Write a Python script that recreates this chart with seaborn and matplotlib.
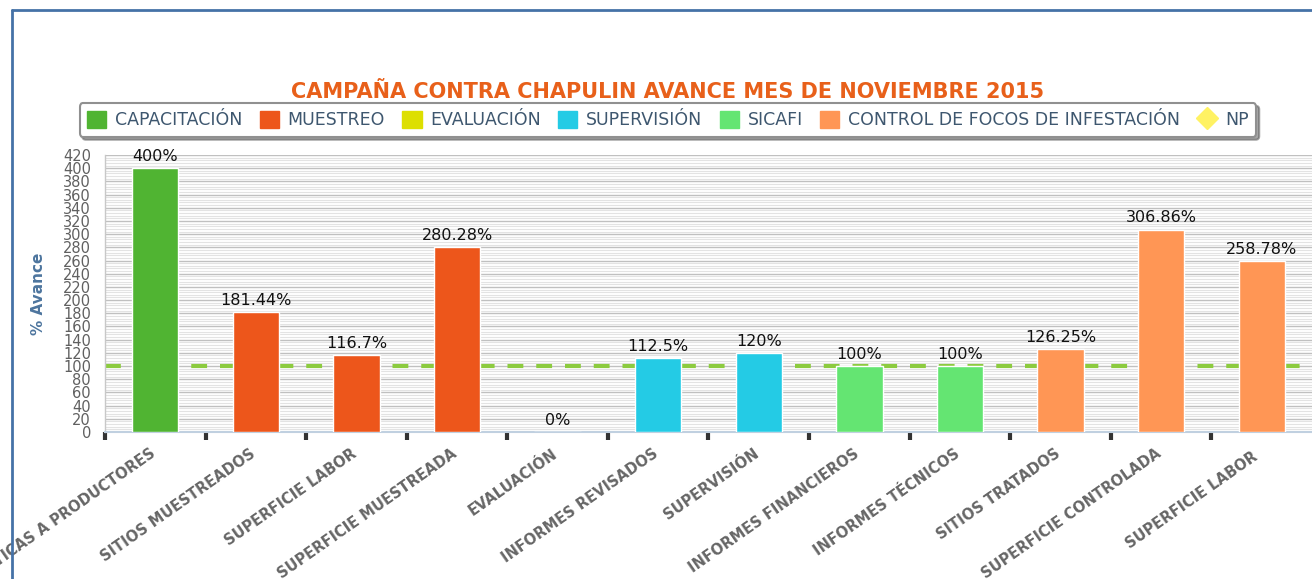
import matplotlib
matplotlib.use("Agg")
import matplotlib.pyplot as plt
import matplotlib.transforms as mtransforms
import seaborn as sns
import pandas as pd
from matplotlib.patches import Patch
from matplotlib.lines import Line2D
from matplotlib.ticker import MultipleLocator

categories = ["PLÁTICAS A PRODUCTORES", "SITIOS MUESTREADOS", "SUPERFICIE LABOR",
              "SUPERFICIE MUESTREADA", "EVALUACIÓN", "INFORMES REVISADOS",
              "SUPERVISIÓN", "INFORMES FINANCIEROS", "INFORMES TÉCNICOS",
              "SITIOS TRATADOS", "SUPERFICIE CONTROLADA", "SUPERFICIE LABOR "]
values = [400, 181.44, 116.7, 280.28, 0, 112.5, 120, 100, 100, 126.25, 306.86, 258.78]
groups = ["CAPACITACIÓN", "MUESTREO", "MUESTREO", "MUESTREO", "EVALUACIÓN",
          "SUPERVISIÓN", "SUPERVISIÓN", "SICAFI", "SICAFI",
          "CONTROL DE FOCOS DE INFESTACIÓN", "CONTROL DE FOCOS DE INFESTACIÓN",
          "CONTROL DE FOCOS DE INFESTACIÓN"]
series_names = ["CAPACITACIÓN", "MUESTREO", "EVALUACIÓN", "SUPERVISIÓN", "SICAFI",
                "CONTROL DE FOCOS DE INFESTACIÓN"]
series_colors = ["#50B432", "#ED561B", "#DDDF00", "#24CBE5", "#64E572", "#FF9655"]
np_label = "NP"
np_color = "#FFF263"
goal = 100
title = "CAMPAÑA CONTRA CHAPULIN AVANCE MES DE NOVIEMBRE 2015"
ylabel = "% Avance"

sns.set_theme(style="white")
plt.rcParams['font.family'] = ['DejaVu Sans']

df = pd.DataFrame({"cat": categories, "val": values, "grp": groups})
palette = dict(zip(series_names, series_colors))

fig = plt.figure(figsize=(13.12, 5.79), dpi=100)
ax = fig.add_axes([105/1312, 1-432/579, 1-105/1312, (432-155)/579])

sns.barplot(data=df, x="cat", y="val", hue="grp", hue_order=series_names,
            palette=palette, dodge=False, width=0.46, saturation=1,
            order=categories, legend=False, ax=ax, zorder=3)

for cont in ax.containers:
    labels = [f"{b.get_height():g}%" for b in cont]
    ax.bar_label(cont, labels=labels, padding=3, fontsize=11.5, color="#111111")

ax.set_ylim(0, 420)
ax.set_xlim(-0.5, len(categories) - 0.5)
ax.yaxis.set_major_locator(MultipleLocator(20))
ax.yaxis.set_minor_locator(MultipleLocator(4))
ax.grid(axis="y", which="major", color="#C0C0C0", lw=1.0, zorder=0)
ax.grid(axis="y", which="minor", color="#E3E3E3", lw=0.8, zorder=0)
ax.grid(axis="x", which="both", visible=False)
ax.set_axisbelow(True)

ax.axhline(goal, color="#8CCB3F", lw=3, ls=(0, (3.8, 3.1)), zorder=2)

ax.tick_params(axis="y", which="both", length=0, pad=10, labelsize=10.5, labelcolor="#606060")
ax.set_yticks(range(0, 421, 20))
ax.set_xticks(range(len(categories)))
ax.set_xticklabels(categories, rotation=35, ha="right", va="top", rotation_mode="anchor",
                   fontsize=10.5, fontweight="bold", color="#666666")
ax.tick_params(axis="x", which="major", length=0, pad=10)
shift = mtransforms.ScaledTranslation(-6/100, 0, fig.dpi_scale_trans)
for lbl in ax.get_xticklabels():
    lbl.set_transform(lbl.get_transform() + shift)
ax.set_xticks([i - 0.5 for i in range(len(categories))], minor=True)
ax.tick_params(axis="x", which="minor", length=6, width=3, color="#333333", direction="out")
ax.xaxis.set_tick_params(which="minor", bottom=True)

ax.set_xlabel("")
ax.set_ylabel(ylabel, fontsize=11, fontweight="bold", color="#4D759E")
ax.yaxis.set_label_coords((46-105)/1207, 0.5)

for s in ["top", "right"]:
    ax.spines[s].set_visible(False)
ax.spines["left"].set_color("#C8C8C8")
ax.spines["left"].set_linewidth(1)
ax.spines["bottom"].set_color("#C0D0E0")
ax.spines["bottom"].set_linewidth(1.5)

fig.text(668/1312, 1-92/579, title, ha="center", va="center", fontsize=15,
         fontweight="bold", color="#E8601A")

handles = [Patch(facecolor=c, edgecolor=c, label=n) for n, c in zip(series_names, series_colors)]
handles.append(Line2D([], [], marker="D", color="none", markerfacecolor=np_color,
                      markeredgecolor=np_color, markersize=11, label=np_label))
leg = fig.legend(handles=handles, loc="center", bbox_to_anchor=(668/1312, 1-120/579),
                 ncol=7, frameon=True, fancybox=True, shadow=True, fontsize=12.5,
                 handlelength=1.1, handleheight=1.1, handletextpad=0.5, columnspacing=1.0,
                 borderpad=0.45)
leg.get_frame().set_edgecolor("#909090")
leg.get_frame().set_linewidth(1.5)
for t in leg.get_texts():
    t.set_color("#3E576F")

fig.add_artist(Line2D([12/1312, 12/1312], [0, 1-10/579], transform=fig.transFigure,
                      color="#4572A7", lw=2))
fig.add_artist(Line2D([12/1312, 1], [1-10/579, 1-10/579], transform=fig.transFigure,
                      color="#4572A7", lw=2))

fig.savefig("out.png", dpi=100)
